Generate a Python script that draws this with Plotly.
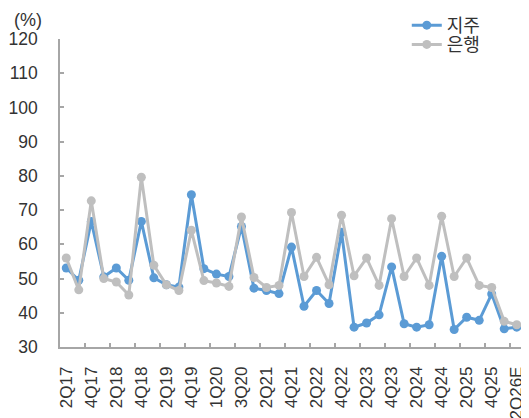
import plotly.graph_objects as go

tick_labels = ["2Q17", "4Q17", "2Q18", "4Q18", "2Q19", "4Q19", "1Q20", "3Q20", "2Q21",
               "4Q21", "2Q22", "4Q22", "2Q23", "4Q23", "2Q24", "4Q24", "2Q25", "4Q25", "2Q26E"]

holding = [53.1, 49.5, 66.7, 50.5, 53.1, 49.5, 66.7, 50.2, 48.2, 47.5,
           74.5, 52.9, 51.3, 50.6, 65.2, 47.2, 46.5, 45.6, 59.2, 41.9,
           46.5, 42.7, 63.5, 35.8, 37.0, 39.4, 53.4, 36.8, 35.8, 36.5,
           56.5, 35.1, 38.7, 37.8, 45.5, 35.3, 35.8]

bank = [56.0, 46.7, 72.7, 50.0, 49.0, 45.2, 79.6, 53.9, 48.2, 46.5,
        64.1, 49.4, 48.7, 47.7, 68.0, 50.3, 47.4, 48.0, 69.3, 50.6,
        56.2, 48.2, 68.5, 50.8, 56.0, 48.0, 67.5, 50.6, 56.0, 48.0,
        68.2, 50.6, 56.0, 48.0, 47.4, 37.5, 36.5]

series_names = ["지주", "은행"]

n = len(holding)
x = list(range(n))

FONT = "Liberation Sans, Arial, Noto Sans CJK KR, sans-serif"
TXT = "#333333"
AXC = "#a6a6a6"

fig = go.Figure()
fig.add_trace(go.Scatter(
    x=x, y=holding, name=series_names[0], mode="lines+markers",
    line=dict(color="#5b9bd5", width=3),
    marker=dict(color="#5b9bd5", size=9),
    legend="legend", showlegend=True,
))
fig.add_trace(go.Scatter(
    x=x, y=bank, name=series_names[1], mode="lines+markers",
    line=dict(color="#bfbfbf", width=3),
    marker=dict(color="#bfbfbf", size=9),
    legend="legend2", showlegend=True,
))

fig.update_layout(
    width=521, height=410, autosize=False,
    margin=dict(l=52, r=6, t=31, b=71, autoexpand=False),
    showlegend=True,
    paper_bgcolor="white", plot_bgcolor="white",
    font=dict(family=FONT, size=18, color=TXT),
    legend=dict(x=0.749, y=1.044, xanchor="left", yanchor="middle",
                bgcolor="rgba(0,0,0,0)", font=dict(size=18, color=TXT)),
    legend2=dict(x=0.749, y=0.9815, xanchor="left", yanchor="middle",
                 bgcolor="rgba(0,0,0,0)", font=dict(size=18, color=TXT)),
    xaxis=dict(
        range=[-0.5, n - 0.5],
        automargin=False,
        tickmode="array",
        tickvals=list(range(0, n, 2)),
        ticktext=tick_labels,
        tickangle=-90,
        ticks="",
        showline=True, linecolor=AXC, linewidth=1.5,
        showgrid=False, zeroline=False,
        ticklabelstandoff=11,
        tickfont=dict(size=17, color=TXT),
        minor=dict(tickmode="array",
                   tickvals=[i + 0.5 for i in range(1, n - 1, 2)],
                   ticks="inside", ticklen=4, tickcolor=AXC, tickwidth=1.5,
                   showgrid=False),
    ),
    yaxis=dict(
        range=[30, 120], dtick=10, tick0=30,
        automargin=False,
        ticks="inside", ticklen=4, tickcolor=AXC, tickwidth=1.5,
        showline=True, linecolor=AXC, linewidth=1.5,
        showgrid=False, zeroline=False,
        ticklabelstandoff=17,
        tickfont=dict(size=17.5, color=TXT),
    ),
    annotations=[dict(text="(%)", xref="paper", yref="paper",
                      x=-0.104, y=1.063, xanchor="left", yanchor="middle",
                      showarrow=False, font=dict(size=18, color=TXT))],
)

fig.write_html("out.html")
